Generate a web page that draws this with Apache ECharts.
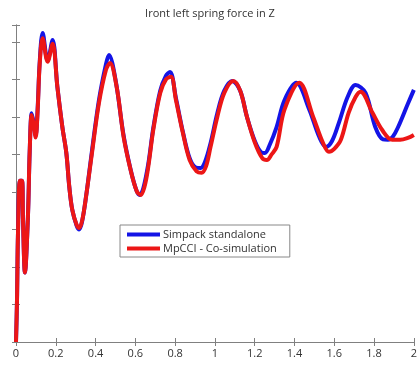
<!DOCTYPE html>
<html>
<head>
<meta charset="utf-8">
<script src="https://cdn.jsdelivr.net/npm/echarts@6/dist/echarts.min.js"></script>
<style>
  html, body { margin: 0; padding: 0; background: #fff; }
  #chart { width: 420px; height: 365px; }
</style>
</head>
<body>
<div id="chart"></div>
<script>
// time axis (s) and tick labels
const xTicks = ['0', '0.2', '0.4', '0.6', '0.8', '1', '1.2', '1.4', '1.6', '1.8', '2'];

// Simpack standalone: [time, force]
const simpackData = [
  [0, 0.0], [0.005, 1.1], [0.010, 2.9], [0.020, 4.3], [0.030, 4.3], [0.035, 3.3],
  [0.045, 1.85], [0.060, 3.35], [0.069, 5.1], [0.079, 6.1], [0.089, 5.85], [0.099, 5.5],
  [0.109, 6.25], [0.119, 7.45], [0.134, 8.24], [0.159, 7.5], [0.184, 8.05], [0.208, 6.8],
  [0.233, 5.73], [0.253, 5.04], [0.268, 4.13], [0.283, 3.52], [0.305, 3.1], [0.318, 3.0],
  [0.332, 3.2], [0.352, 3.87], [0.382, 5.1], [0.417, 6.45], [0.452, 7.4], [0.467, 7.65],
  [0.500, 7.0], [0.541, 5.5], [0.576, 4.6], [0.605, 4.05], [0.622, 3.92], [0.640, 4.1],
  [0.665, 4.75], [0.690, 5.7], [0.725, 6.7], [0.754, 7.1], [0.774, 7.2], [0.804, 6.5],
  [0.839, 5.6], [0.873, 4.9], [0.905, 4.65], [0.928, 4.64], [0.950, 4.8], [0.978, 5.3],
  [1.012, 6.1], [1.047, 6.7], [1.087, 6.96], [1.127, 6.7], [1.161, 6.0], [1.201, 5.35],
  [1.232, 5.06], [1.251, 5.04], [1.275, 5.25], [1.310, 5.73], [1.350, 6.45], [1.409, 6.91],
  [1.474, 6.2], [1.524, 5.47], [1.558, 5.2], [1.588, 5.35], [1.623, 5.84], [1.667, 6.53],
  [1.707, 6.85], [1.757, 6.64], [1.806, 5.73], [1.845, 5.4], [1.870, 5.39], [1.895, 5.48],
  [1.921, 5.73], [1.970, 6.35], [2.0, 6.72]
];

// MpCCI co-simulation: [time, force]
const mpcciData = [
  [0, 0.0], [0.005, 1.1], [0.010, 2.9], [0.020, 4.3], [0.030, 4.3], [0.035, 3.3],
  [0.045, 1.85], [0.060, 3.35], [0.069, 5.1], [0.079, 6.05], [0.089, 5.8], [0.099, 5.45],
  [0.109, 6.2], [0.119, 7.4], [0.134, 8.1], [0.159, 7.47], [0.184, 7.95], [0.208, 6.8],
  [0.233, 5.73], [0.253, 5.04], [0.268, 4.13], [0.283, 3.52], [0.305, 3.12], [0.318, 3.04],
  [0.333, 3.25], [0.352, 3.87], [0.382, 5.04], [0.417, 6.37], [0.452, 7.25], [0.472, 7.44],
  [0.506, 6.8], [0.541, 5.47], [0.576, 4.59], [0.607, 4.02], [0.626, 3.92], [0.645, 4.12],
  [0.665, 4.67], [0.690, 5.65], [0.725, 6.64], [0.754, 7.0], [0.779, 7.07], [0.804, 6.45],
  [0.839, 5.57], [0.873, 4.85], [0.908, 4.55], [0.933, 4.51], [0.955, 4.68], [0.978, 5.2],
  [1.012, 6.0], [1.047, 6.64], [1.092, 6.96], [1.127, 6.7], [1.161, 6.0], [1.201, 5.31],
  [1.238, 4.9], [1.261, 4.85], [1.285, 5.0], [1.310, 5.2], [1.350, 6.2], [1.424, 6.91],
  [1.494, 6.0], [1.543, 5.31], [1.573, 5.07], [1.600, 5.15], [1.633, 5.39], [1.672, 6.11],
  [1.707, 6.53], [1.732, 6.67], [1.792, 6.11], [1.841, 5.65], [1.891, 5.39], [1.931, 5.39],
  [1.970, 5.44], [2.0, 5.52]
];

const chart = echarts.init(document.getElementById('chart'));

const font = "'Open Sans', 'Liberation Sans', sans-serif";
const axisGray = '#808080';

const option = {
  animation: false,
  title: {
    text: 'Iront left spring force in Z',
    left: 'center',
    top: 3,
    textStyle: { fontFamily: font, fontSize: 11, fontWeight: 'normal', color: '#333' }
  },
  legend: {
    orient: 'vertical',
    left: 120,
    top: 225,
    padding: [4, 13, 3, 7],
    itemGap: 3,
    itemWidth: 33,
    itemHeight: 4,
    icon: 'rect',
    borderColor: '#888',
    borderWidth: 1,
    backgroundColor: '#fff',
    textStyle: { fontFamily: font, fontSize: 11, color: '#333', padding: [0, 0, 0, -2] },
    data: ['Simpack standalone', 'MpCCI - Co-simulation']
  },
  grid: { left: 16, right: 1, top: 25, bottom: 23 },
  xAxis: [
    {
      type: 'value', min: 0, max: 2, interval: 0.2,
      axisLine: { lineStyle: { color: axisGray, width: 1 } },
      axisTick: { inside: true, length: 4, lineStyle: { color: axisGray } },
      axisLabel: {
        fontFamily: font, fontSize: 11, color: '#333', margin: 6,
        formatter: (v) => xTicks[Math.round(v / 0.2)]
      },
      splitLine: { show: false }
    },
    {
      type: 'value', min: 0, max: 2, interval: 0.2, position: 'top',
      axisLine: { lineStyle: { color: axisGray, width: 1 } },
      axisTick: { inside: true, length: 4, lineStyle: { color: axisGray } },
      axisLabel: { show: false },
      splitLine: { show: false }
    }
  ],
  yAxis: [
    {
      type: 'value', min: 0, max: 8.45, interval: 1,
      axisLine: { show: true, lineStyle: { color: axisGray, width: 1 } },
      axisTick: { show: true, inside: true, length: 4, lineStyle: { color: axisGray } },
      axisLabel: { show: false },
      splitLine: { show: false }
    },
    {
      type: 'value', min: 0, max: 8.45, interval: 1, position: 'right',
      axisLine: { show: true, lineStyle: { color: axisGray, width: 1 } },
      axisTick: { show: true, inside: true, length: 4, lineStyle: { color: axisGray } },
      axisLabel: { show: false },
      splitLine: { show: false }
    }
  ],
  series: [
    {
      name: 'Simpack standalone',
      type: 'line',
      data: simpackData,
      smooth: 0.35,
      symbol: 'none',
      color: '#1414e6',
      lineStyle: { width: 4, color: '#1414e6' }
    },
    {
      name: 'MpCCI - Co-simulation',
      type: 'line',
      data: mpcciData,
      smooth: 0.35,
      symbol: 'none',
      color: '#ec1616',
      lineStyle: { width: 4, color: '#ec1616' }
    }
  ]
};

chart.setOption(option);
</script>
</body>
</html>
